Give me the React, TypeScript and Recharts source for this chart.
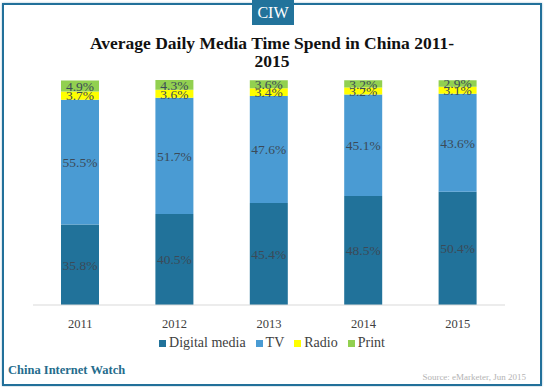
import { BarChart, Bar, XAxis, YAxis, LabelList } from "recharts";

const years = ["2011", "2012", "2013", "2014", "2015"];
const digitalMedia = [35.8, 40.5, 45.4, 48.5, 50.4];
const tv = [55.5, 51.7, 47.6, 45.1, 43.6];
const radio = [3.7, 3.6, 3.4, 3.2, 3.1];
const print = [4.9, 4.3, 3.6, 3.2, 2.9];

const data = years.map((year, i) => ({
  year,
  digital: digitalMedia[i],
  tv: tv[i],
  radio: radio[i],
  print: print[i],
}));

const series = [
  { key: "digital", name: "Digital media", color: "#21729a" },
  { key: "tv", name: "TV", color: "#4a9bd3" },
  { key: "radio", name: "Radio", color: "#ffff00" },
  { key: "print", name: "Print", color: "#92d050" },
];

const serif = "Liberation Serif";
const pct = (v: number) => `${v.toFixed(1)}%`;

export default function App() {
  return (
    <div
      style={{
        position: "absolute",
        left: 0,
        top: 0,
        width: 544,
        height: 387,
        background: "#fff",
        fontFamily: serif,
        overflow: "hidden",
      }}
    >
      {/* frame */}
      <div
        style={{
          position: "absolute",
          left: 2,
          top: 3,
          width: 536,
          height: 379,
          border: "2px solid #22709a",
          boxShadow: "0 0 2px #9bbccd",
        }}
      />
      <div
        style={{
          position: "absolute",
          left: 252,
          top: 0,
          width: 42,
          height: 25,
          background: "#22739b",
          color: "#fff",
          fontSize: 16,
          lineHeight: "25px",
          textAlign: "center",
        }}
      >
        CIW
      </div>
      <div
        style={{
          position: "absolute",
          left: 0,
          top: 34,
          width: 544,
          textAlign: "center",
          fontWeight: "bold",
          fontSize: 17.5,
          lineHeight: "18px",
          color: "#111",
        }}
      >
        Average Daily Media Time Spend in China 2011-
        <br />
        2015
      </div>

      <div style={{ position: "absolute", left: 0, top: 0 }}>
        <BarChart
          width={544}
          height={387}
          data={data}
          margin={{ top: 80, right: 39, left: 33, bottom: 53 }}
          barSize={38}
        >
          <XAxis
            dataKey="year"
            height={29}
            axisLine={{ stroke: "#d9d9d9" }}
            tickLine={false}
            tick={{ fontSize: 12.5, fill: "#404040", fontFamily: serif }}
            tickMargin={8}
          />
          <YAxis hide domain={[0, 100]} />
          {series.map((s) => (
            <Bar
              key={s.key}
              dataKey={s.key}
              name={s.name}
              stackId="a"
              fill={s.color}
              isAnimationActive={false}
            >
              <LabelList
                dataKey={s.key}
                position="center"
                formatter={(v: any) => pct(Number(v))}
                style={{ fontSize: 13.5, fill: "#3b4a58", fontFamily: serif }}
              />
            </Bar>
          ))}
        </BarChart>
      </div>

      {/* legend */}
      <div
        style={{
          position: "absolute",
          left: 0,
          top: 335,
          width: 544,
          display: "flex",
          justifyContent: "center",
          fontSize: 14,
          color: "#404040",
          gap: 10,
        }}
      >
        {series.map((s) => (
          <span key={s.key} style={{ display: "flex", alignItems: "center" }}>
            <span
              style={{
                display: "inline-block",
                width: 7,
                height: 7,
                background: s.color,
                marginRight: 3,
              }}
            />
            {s.name}
          </span>
        ))}
      </div>

      <div
        style={{
          position: "absolute",
          left: 8,
          top: 363,
          fontSize: 12.5,
          fontWeight: "bold",
          color: "#256c8c",
        }}
      >
        China Internet Watch
      </div>
      <div
        style={{
          position: "absolute",
          right: 18,
          top: 372,
          fontSize: 9,
          color: "#b4b4b4",
        }}
      >
        Source: eMarketer, Jun 2015
      </div>
    </div>
  );
}
